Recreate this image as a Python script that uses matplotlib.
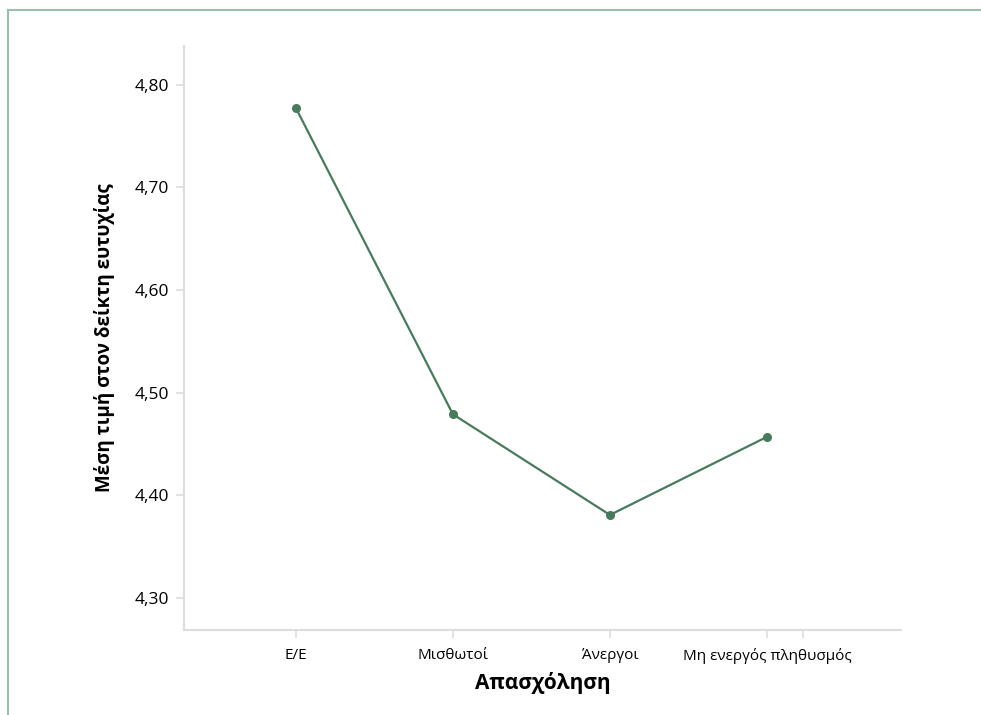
import matplotlib
matplotlib.use('Agg')
import matplotlib.pyplot as plt
from matplotlib.lines import Line2D
from matplotlib.ticker import FuncFormatter

# dados
categorias = ['Ε/Ε', 'Μισθωτοί', 'Άνεργοι', 'Μη ενεργός πληθυσμός']
medias = [4.777, 4.479, 4.381, 4.457]
yticks = [4.30, 4.40, 4.50, 4.60, 4.70, 4.80]

plt.rcParams['font.family'] = ['Open Sans', 'DejaVu Sans']

cor = '#4a7a5e'
cinza = '#dddddd'

fig = plt.figure(figsize=(9.81, 7.15), dpi=100)
ax = fig.add_axes([184 / 981, 85 / 715, 717 / 981, 584 / 715])

x = list(range(len(categorias)))
ax.plot(x, medias, color=cor, linewidth=1.6, marker='o', markersize=5.5)

ax.set_xlim(-0.713, 3.854)
ax.set_ylim(4.269, 4.8375)
ax.set_xticks(x)
ax.set_xticklabels(categorias, fontsize=11)
ax.set_xticks([3.23], minor=True)
ax.set_yticks(yticks)
ax.yaxis.set_major_formatter(FuncFormatter(lambda v, p: f'{v:.2f}'.replace('.', ',')))
ax.tick_params(axis='y', labelsize=12.5, pad=5)
ax.tick_params(axis='x', pad=7)
ax.tick_params(which='both', color=cinza, length=6, width=1.2)

for lado in ['top', 'right']:
    ax.spines[lado].set_visible(False)
for lado in ['left', 'bottom']:
    ax.spines[lado].set_color(cinza)
    ax.spines[lado].set_linewidth(1.5)

ax.set_xlabel('Απασχόληση', fontsize=15, fontweight='bold', labelpad=6)
ax.set_ylabel('Μέση τιμή στον δείκτη ευτυχίας', fontsize=13.5, fontweight='bold', labelpad=14)

# moldura da figura (topo e esquerda)
borda = '#9dbdab'
fig.add_artist(Line2D([8 / 981, 1], [1 - 10 / 715, 1 - 10 / 715], transform=fig.transFigure, color=borda, linewidth=1.5))
fig.add_artist(Line2D([8 / 981, 8 / 981], [0, 1 - 10 / 715], transform=fig.transFigure, color=borda, linewidth=1.5))

fig.savefig('out.png', dpi=100)
